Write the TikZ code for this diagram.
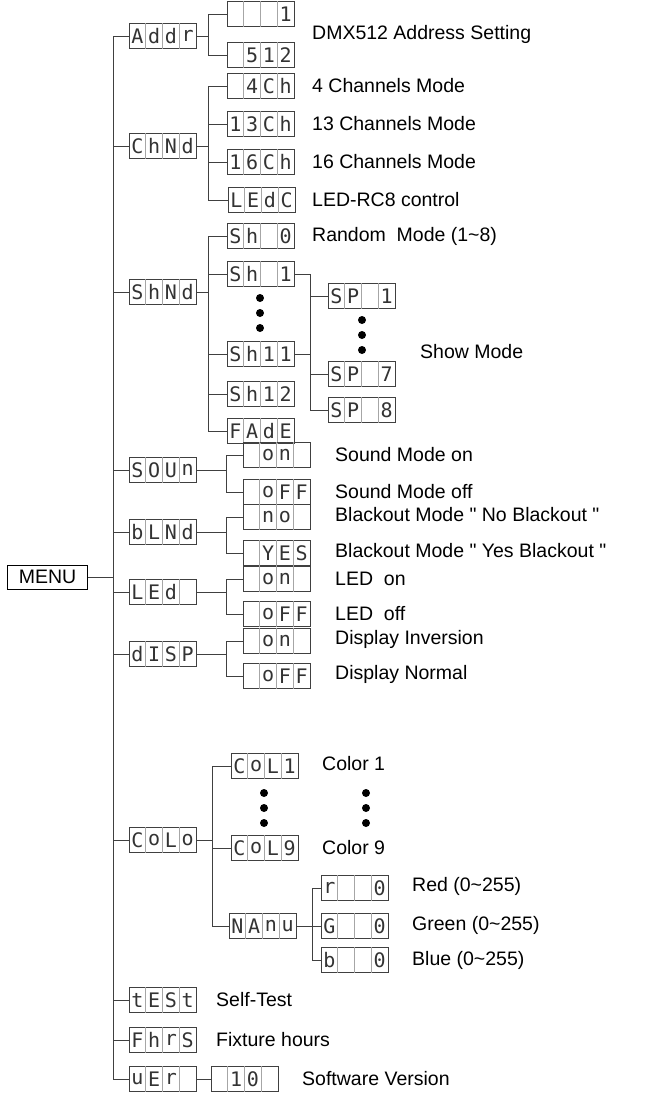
\documentclass[tikz,border=0pt]{standalone}
\usepackage{fontspec}
\setmainfont{Liberation Sans}[Ligatures=TeXOff]
\newfontfamily\segf{DejaVu Sans Mono}
\usetikzlibrary{calc}
\tikzset{
 box/.style={draw=black!75,line width=1pt,minimum width=67pt,minimum height=25pt,inner sep=0pt,anchor=west},
 ln/.style={draw=black!75,line width=1pt},
 lab/.style={anchor=west,font=\fontsize{19.5}{21}\selectfont,inner sep=0pt},
 seg/.style={font=\segf\fontsize{20}{20}\selectfont,text=black!80,inner sep=0pt}
}
\newcommand\dsp[7]{%
 \node[box] (#1) at (#2,#3) {};
 \foreach \k in {1,2,3}{\draw[black!35,line width=0.6pt] ($(#1.north west)+(\k*16.75,0)$) -- ($(#1.south west)+(\k*16.75,0)$);}
 \node[seg] at ($(#1.west)+(8.4,0)$) {#4};
 \node[seg] at ($(#1.west)+(25.1,0)$) {#5};
 \node[seg] at ($(#1.west)+(41.9,0)$) {#6};
 \node[seg] at ($(#1.west)+(58.6,0)$) {#7};
}
\newcommand\dotcol[2]{\foreach \d in {0,15,30}{\fill (#1,#2+\d) circle (4pt);}}
\begin{document}
\begin{tikzpicture}[x=1pt,y=-1pt]
\useasboundingbox (0,0) rectangle (662,1096);
\node[draw,line width=1pt,minimum width=80pt,minimum height=24pt,inner sep=0pt,font=\fontsize{19.5}{21}\selectfont,anchor=west] (menu) at (7,577) {MENU};
% level 1
\dsp{addr}{129}{36}{A}{d}{d}{r}
\dsp{chnd}{129}{146}{C}{h}{N}{d}
\dsp{shnd}{129}{292}{S}{h}{N}{d}
\dsp{soun}{129}{470}{S}{O}{U}{n}
\dsp{blnd}{129}{532}{b}{L}{N}{d}
\dsp{led}{129}{592}{L}{E}{d}{}
\dsp{disp}{129}{654}{d}{I}{S}{P}
\dsp{colo}{129}{840}{C}{o}{L}{o}
\dsp{test}{129}{1000}{t}{E}{S}{t}
\dsp{fhrs}{129}{1040}{F}{h}{r}{S}
\dsp{ver}{129}{1079}{u}{E}{r}{}
\draw[ln] (menu.east) -- (113,577);
\draw[ln] (113,36) -- (113,1079);
\foreach \n in {addr,chnd,shnd,soun,blnd,led,disp,colo,test,fhrs,ver}{\draw[ln] (\n.west) -- ++(-16,0);}
% Addr
\dsp{a1}{227}{14}{}{}{}{1}
\dsp{a2}{227}{55}{}{5}{1}{2}
\draw[ln] (addr.east) -- (208,36);
\draw[ln] (208,14) -- (208,55);
\foreach \n in {a1,a2}{\draw[ln] (\n.west) -- ++(-19,0);}
\node[lab] at (312,34) {DMX512 Address Setting};
% ChNd
\dsp{c1}{227}{86}{}{4}{C}{h}
\dsp{c2}{227}{124}{1}{3}{C}{h}
\dsp{c3}{227}{162}{1}{6}{C}{h}
\dsp{c4}{228}{200}{L}{E}{d}{C}
\draw[ln] (chnd.east) -- (208,146);
\draw[ln] (208,86) -- (208,200);
\foreach \n in {c1,c2,c3}{\draw[ln] (\n.west) -- ++(-19,0);}
\draw[ln] (c4.west) -- ++(-20,0);
\node[lab] at (312,86) {4 Channels Mode};
\node[lab] at (312,124) {13 Channels Mode};
\node[lab] at (312,162) {16 Channels Mode};
\node[lab] at (312,200) {LED-RC8 control};
% ShNd
\dsp{s0}{227}{236}{S}{h}{}{0}
\dsp{s1}{227}{274}{S}{h}{}{1}
\dsp{s11}{227}{354}{S}{h}{1}{1}
\dsp{s12}{227}{394}{S}{h}{1}{2}
\dsp{fade}{227}{431}{F}{A}{d}{E}
\dotcol{260}{298}
\draw[ln] (shnd.east) -- (208,292);
\draw[ln] (208,236) -- (208,431);
\foreach \n in {s0,s1,s11,s12,fade}{\draw[ln] (\n.west) -- ++(-19,0);}
\node[lab] at (312,236) {Random\ \ Mode (1\textasciitilde8)};
\dsp{p1}{328}{296}{S}{P}{}{1}
\dsp{p7}{328}{374}{S}{P}{}{7}
\dsp{p8}{328}{410}{S}{P}{}{8}
\dotcol{362}{320}
\draw[ln] (s1.east) -- (310,274) -- (310,410);
\draw[ln] (s11.east) -- (310,354);
\foreach \n in {p1,p7,p8}{\draw[ln] (\n.west) -- ++(-18,0);}
\node[lab] at (420,352) {Show Mode};
% SOUn etc
\dsp{so1}{243}{455}{}{o}{n}{}
\dsp{so2}{243}{492}{}{o}{F}{F}
\dsp{bl1}{243}{517}{}{n}{o}{}
\dsp{bl2}{243}{553}{}{Y}{E}{S}
\dsp{le1}{243}{579}{}{o}{n}{}
\dsp{le2}{243}{614}{}{o}{F}{F}
\dsp{di1}{243}{641}{}{o}{n}{}
\dsp{di2}{243}{676}{}{o}{F}{F}
\foreach \p/\a/\b in {soun/so1/so2,blnd/bl1/bl2,led/le1/le2,disp/di1/di2}{
 \draw[ln] (\p.east) -- ++(30,0);
 \draw[ln] (\a.west) -- ++(-17,0) -- ($(\b.west)+(-17,0)$) -- (\b.west);}
\node[lab] at (335,455) {Sound Mode on};
\node[lab] at (335,492) {Sound Mode off};
\node[lab] at (335,515) {Blackout Mode " No Blackout "};
\node[lab] at (335,551) {Blackout Mode " Yes Blackout "};
\node[lab] at (335,579) {LED\ \ on};
\node[lab] at (335,614) {LED\ \ off};
\node[lab] at (335,639) {Display Inversion};
\node[lab] at (335,674) {Display Normal};
% Color
\dsp{col1}{231}{766}{C}{o}{L}{1}
\dsp{col9}{231}{848}{C}{o}{L}{9}
\dsp{manu}{229}{926}{N}{A}{n}{u}
\dotcol{264}{793}
\dotcol{366}{793}
\draw[ln] (colo.east) -- (212,840);
\draw[ln] (212,766) -- (212,926);
\foreach \n in {col1,col9}{\draw[ln] (\n.west) -- ++(-19,0);}
\draw[ln] (manu.west) -- ++(-17,0);
\node[lab] at (322,764) {Color 1};
\node[lab] at (322,848) {Color 9};
\dsp{r}{321}{888}{r}{}{}{0}
\dsp{g}{321}{926}{G}{}{}{0}
\dsp{b}{321}{960}{b}{}{}{0}
\draw[ln] (manu.east) -- (312,926);
\draw[ln] (312,888) -- (312,960);
\foreach \n in {r,g,b}{\draw[ln] (\n.west) -- ++(-9,0);}
\node[lab] at (412,886) {Red (0\textasciitilde255)};
\node[lab] at (412,925) {Green (0\textasciitilde255)};
\node[lab] at (412,960) {Blue (0\textasciitilde255)};
% bottom
\node[lab] at (216,1000) {Self-Test};
\node[lab] at (216,1040) {Fixture hours};
\dsp{v10}{211}{1079}{}{1}{0}{}
\draw[ln] (ver.east) -- (v10.west);
\node[lab] at (302,1079) {Software Version};
\end{tikzpicture}
\end{document}
